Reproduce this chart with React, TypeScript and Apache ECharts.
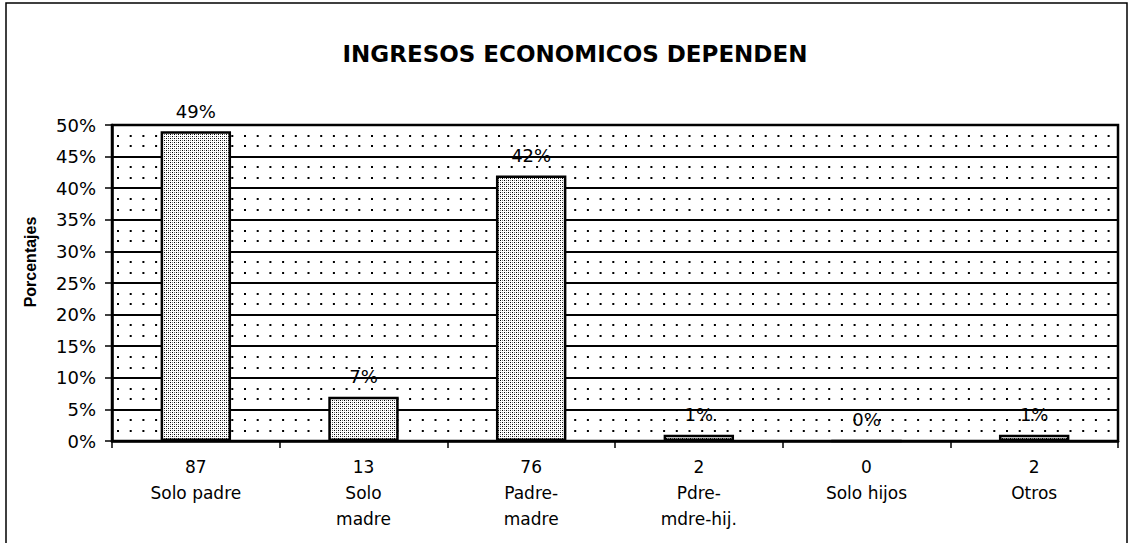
import React, { useEffect, useRef } from "react";
import * as echarts from "echarts";

const categories = ["Solo padre", "Solo\nmadre", "Padre-\nmadre", "Pdre-\nmdre-hij.", "Solo hijos", "Otros"];
const counts = [87, 13, 76, 2, 0, 2];
const percents = [49, 7, 42, 1, 0, 1];
const titleText = "INGRESOS ECONOMICOS DEPENDEN";
const yName = "Porcentajes";

function makeBarPattern(): HTMLCanvasElement {
  const c = document.createElement("canvas");
  c.width = 4;
  c.height = 4;
  const ctx = c.getContext("2d")!;
  ctx.fillStyle = "#ffffff";
  ctx.fillRect(0, 0, 4, 4);
  ctx.fillStyle = "#000000";
  ctx.fillRect(0, 0, 1, 1);
  ctx.fillRect(2, 2, 1, 1);
  ctx.fillStyle = "#777777";
  ctx.fillRect(2, 0, 1, 1);
  ctx.fillRect(0, 2, 1, 1);
  return c;
}

export default function App() {
  const ref = useRef<HTMLDivElement>(null);
  useEffect(() => {
    document.body.style.margin = "0";
    const chart = echarts.init(ref.current!, null, { renderer: "svg" });
    const pattern = makeBarPattern();
    chart.setOption({
      animation: false,
      backgroundColor: "#ffffff",
      title: {
        text: titleText,
        left: 570,
        textAlign: "center",
        top: 37,
        textStyle: { fontFamily: "DejaVu Sans", fontWeight: "bold", fontSize: 23, color: "#000" },
      },
      graphic: [
        {
          type: "rect",
          shape: { x: 6, y: 3, width: 1121, height: 560 },
          style: { fill: "none", stroke: "#000", lineWidth: 1.5 },
          silent: true,
        },
        {
          type: "text",
          x: 30,
          y: 262,
          rotation: Math.PI / 2,
          style: {
            text: yName,
            fontFamily: "Liberation Sans, Arial",
            fontWeight: "bold",
            fontSize: 16,
            fill: "#000",
            align: "center",
            verticalAlign: "middle",
          },
          silent: true,
        },
      ],
      grid: {
        left: 112,
        right: 12,
        top: 125,
        bottom: 102,
        show: true,
        borderColor: "#000",
        borderWidth: 2.5,
        backgroundColor: "transparent",
      },
      xAxis: {
        type: "category",
        data: categories.map((c, i) => `${counts[i]}\n${c}`),
        boundaryGap: true,
        axisLine: { show: true, lineStyle: { color: "#000", width: 2.5 } },
        axisTick: { show: true, alignWithLabel: false, length: 7, lineStyle: { color: "#000", width: 1.5 } },
        axisLabel: {
          interval: 0,
          margin: 13,
          fontFamily: "DejaVu Sans",
          fontSize: 17,
          lineHeight: 26,
          color: "#000",
          align: "center",
        },
        splitLine: { show: false },
      },
      yAxis: {
        type: "value",
        min: 0,
        max: 50,
        interval: 5,
        axisLine: { show: true, lineStyle: { color: "#000", width: 2.5 } },
        axisTick: { show: true, length: 7, lineStyle: { color: "#000", width: 1.5 } },
        axisLabel: {
          formatter: (v: number) => `${v}%`,
          fontFamily: "DejaVu Sans",
          fontSize: 18,
          color: "#000",
          margin: 16,
        },
        splitLine: { show: true, lineStyle: { color: "#000", width: 1.8 } },
        minorTick: { show: false, splitNumber: 3 },
        minorSplitLine: { show: true, lineStyle: { color: "#000", width: 2, type: [2, 10.7], dashOffset: -5 } },
      },
      series: [
        {
          type: "bar",
          data: percents,
          barWidth: "42%",
          itemStyle: {
            color: { image: pattern, repeat: "repeat" },
            borderColor: "#000",
            borderWidth: 2.5,
          },
          label: {
            show: true,
            position: "top",
            distance: 11,
            formatter: (p: any) => `${p.value}%`,
            fontFamily: "DejaVu Sans",
            fontSize: 18,
            color: "#000",
          },
        },
      ],
    });
    return () => chart.dispose();
  }, []);
  return <div ref={ref} style={{ position: "fixed", left: 0, top: 0, width: 1130, height: 543 }} />;
}
